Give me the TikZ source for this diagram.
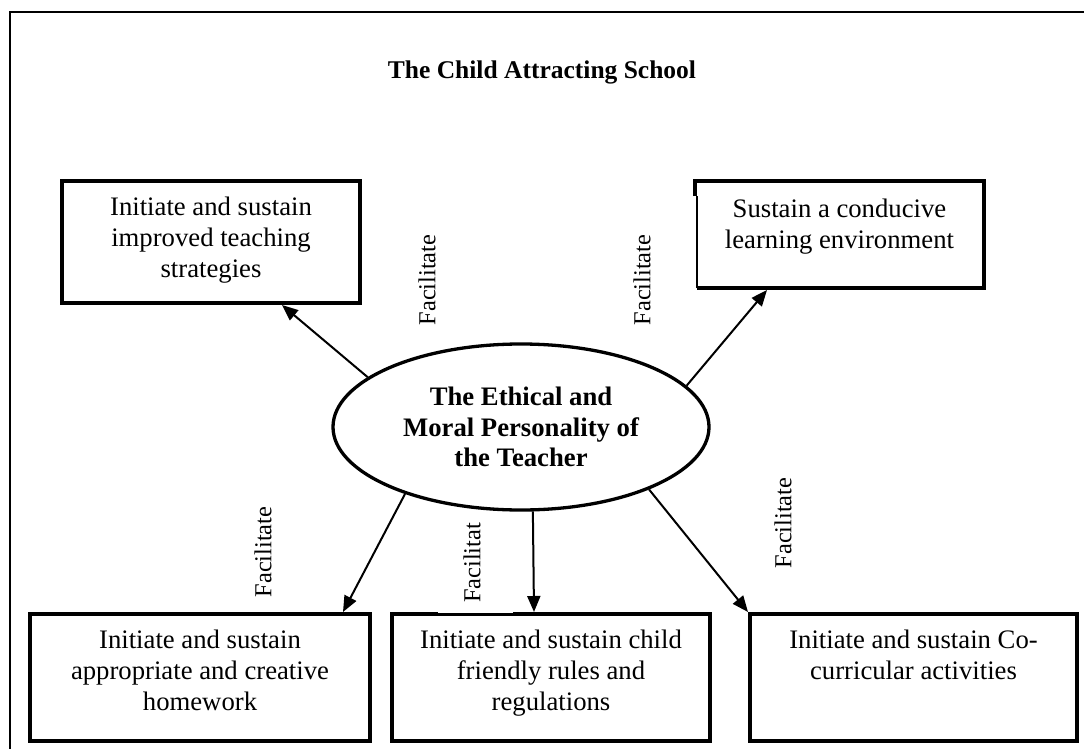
\documentclass[tikz,border=0pt]{standalone}
\usepackage{fontspec}
\setmainfont{Liberation Serif}
\usetikzlibrary{arrows.meta,shapes.geometric}
\begin{document}
\begin{tikzpicture}[x=1pt,y=-1pt,
  boxstyle/.style={draw, line width=4pt, inner sep=0pt},
  boxtext/.style={font=\fontsize{26.7}{30.7}\selectfont, align=center, inner sep=0pt, anchor=north},
  lbl/.style={font=\fontsize{24.4}{28}\selectfont, rotate=90, inner sep=0pt},
  arr/.style={line width=2pt, -{Triangle[length=16pt,width=13pt]}},
]
\useasboundingbox (0,0) rectangle (1084,749);
\draw[line width=2pt] (10,12) rectangle (1100,770);
\node[font=\fontsize{25.5}{29}\selectfont\bfseries] (title) at (542,72) {The Child Attracting School};

% boxes
\node[boxstyle, minimum width=298pt, minimum height=122pt] (tl) at (211,242) {};
\node[boxtext] (tltext) at ([yshift=-18pt]tl.north) {Initiate and sustain\\improved teaching\\strategies};

\node[boxstyle, draw=none, outer sep=0pt, minimum width=289pt, minimum height=107pt] (tr) at (839.5,234.5) {};
\draw[line width=4pt] ([yshift=-15pt]tr.north west) -- (tr.north west) -- (tr.north east) -- (tr.south east) -- ([xshift=2pt]tr.south west);
\draw[line width=2pt] ([xshift=2pt]tr.south west) -- ([xshift=2pt,yshift=-15pt]tr.north west);
\node[boxtext] (trtext) at ([yshift=-18pt]tr.north) {Sustain a conducive\\learning environment};

\node[boxstyle, minimum width=340pt, minimum height=127pt] (bl) at (200,677.5) {};
\node[boxtext] (bltext) at ([yshift=-18pt]bl.north) {Initiate and sustain\\appropriate and creative\\homework};

\node[boxstyle, minimum width=318pt, minimum height=127pt] (bm) at (551,677.5) {};
\node[boxtext] (bmtext) at ([yshift=-18pt]bm.north) {Initiate and sustain child\\friendly rules and\\regulations};

\node[boxstyle, minimum width=327pt, minimum height=127pt] (br) at (913.5,677.5) {};
\node[boxtext] (brtext) at ([yshift=-18pt]br.north) {Initiate and sustain Co-\\curricular activities};

% central ellipse
\node[draw, ellipse, line width=3.3pt, minimum width=376pt, minimum height=166pt, inner sep=0pt,
      align=center, font=\fontsize{26.7}{30.7}\selectfont\bfseries] (el) at (521,427)
      {The Ethical and\\Moral Personality of\\the Teacher};

% connectors
\draw[arr] (el.162.7) -- ([xshift=71pt]tl.south);
\draw[arr] (el.14) -- ([xshift=-72.5pt,yshift=-2pt]tr.south);
\draw[arr] (el.210.7) -- ([xshift=143pt]bl.north);
\draw[arr] (el.278) -- ([xshift=-17pt]bm.north);
\draw[arr] (el.334) -- (br.north west);

% labels
\node[lbl] (f1) at (427,280) {Facilitate};
\node[lbl] (f2) at (642,280) {Facilitate};
\node[lbl] (f3) at (263,552) {Facilitate};
\fill[white] (438,606) rectangle (513,613.3);
\node[lbl] (f4) at (472,563) {Facilitat};
\node[lbl] (f5) at (783,523) {Facilitate};
\end{tikzpicture}
\end{document}
